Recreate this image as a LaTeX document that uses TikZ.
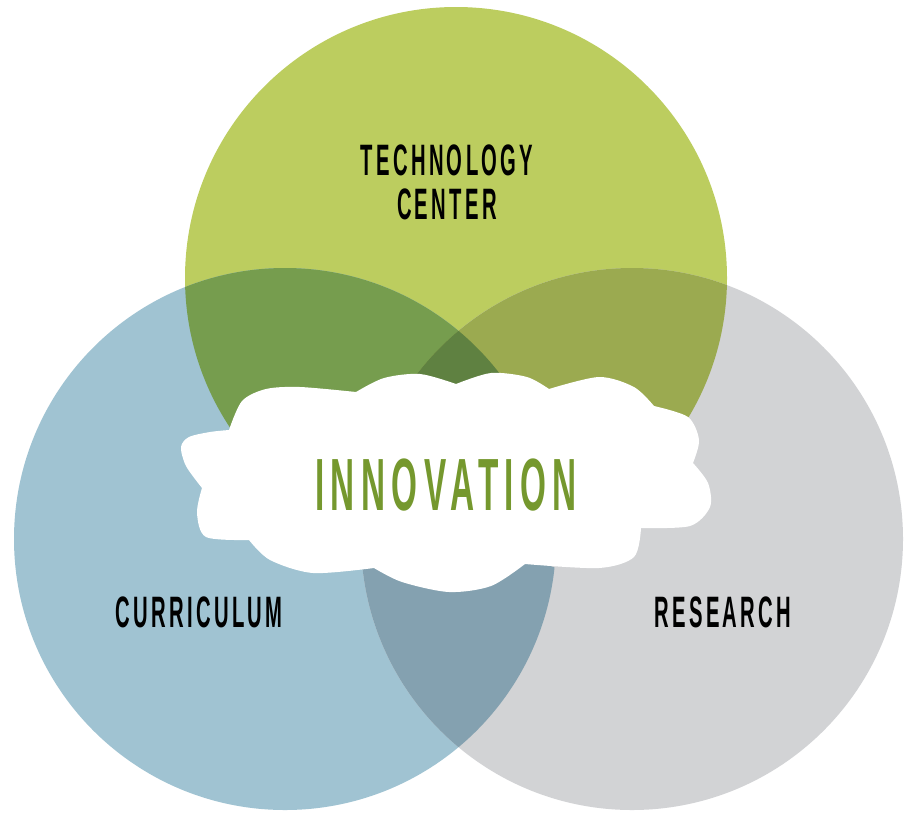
\documentclass[tikz,border=0pt]{standalone}
\usepackage{fontspec}
\usepackage{tikz}
\usetikzlibrary{positioning}

\newfontfamily\labelfont[FakeStretch=0.46,LetterSpace=7.6]{Liberation Sans}
\newfontfamily\innofont[FakeStretch=0.45,LetterSpace=8.6]{Liberation Sans}

\definecolor{techgreen}{RGB}{188,205,95}
\definecolor{curblue}{RGB}{160,195,210}
\definecolor{resgray}{RGB}{210,211,213}
\definecolor{greenblue}{RGB}{118,157,78}
\definecolor{greengray}{RGB}{155,170,80}
\definecolor{bluegray}{RGB}{132,161,176}
\definecolor{allthree}{RGB}{95,129,65}
\definecolor{innogreen}{RGB}{117,152,46}

\begin{document}
\begin{tikzpicture}[
    x=1pt, y=-1pt,
    setlabel/.style={inner sep=0pt, anchor=base, text=black, align=center,
        font=\labelfont\bfseries\fontsize{44}{44}\selectfont},
    innolabel/.style={inner sep=0pt, anchor=base, text=innogreen,
        font=\innofont\bfseries\fontsize{74}{78}\selectfont}
    ]
        \useasboundingbox (0,0) rectangle (907,812);

        %Circles
        \coordinate (tc) at (456,278);
        \coordinate (cu) at (285,539);
        \coordinate (re) at (632,539);
        \fill[techgreen] (tc) circle[radius=271pt];
        \fill[curblue]   (cu) circle[radius=271pt];
        \fill[resgray]   (re) circle[radius=271pt];

        %Overlaps
        \begin{scope}
            \clip (tc) circle[radius=271pt];
            \fill[greenblue] (cu) circle[radius=271pt];
            \fill[greengray] (re) circle[radius=271pt];
            \clip (cu) circle[radius=271pt];
            \fill[allthree] (re) circle[radius=271pt];
        \end{scope}
        \begin{scope}
            \clip (cu) circle[radius=271pt];
            \clip (re) circle[radius=271pt];
            \fill[bluegray] (tc) ++(0,542) circle[radius=271pt];
        \end{scope}

        %Cloud
        \fill[white]
            plot[smooth] coordinates {(202,488) (186,466) (181,447) (189,437) (210,432) (229,430)}
            -- plot[smooth] coordinates {(229,430) (242,401) (266,389) (300,387) (356,392)}
            -- plot[smooth] coordinates {(356,392) (384,378) (420,374) (456,384)}
            -- plot[smooth] coordinates {(456,384) (491,373) (527,377) (549,389)}
            -- plot[smooth] coordinates {(549,389) (599,377) (634,387) (654,406)}
            -- plot[smooth] coordinates {(654,406) (688,417) (699,440) (693,463)}
            -- plot[smooth] coordinates {(693,463) (708,483) (710,507) (690,526) (641,528)}
            -- plot[smooth] coordinates {(641,528) (634,557) (599,568) (525,564)}
            -- plot[smooth] coordinates {(525,564) (491,586) (449,592) (402,582) (374,568)}
            -- plot[smooth] coordinates {(374,568) (313,573) (270,560) (249,540)}
            -- plot[smooth] coordinates {(249,540) (206,537) (197,513) (202,488)}
            -- cycle;

        %Labels
        \node[setlabel, anchor=center] (tech) at (447,182.5) {TECHNOLOGY\\CENTER};
        \node[setlabel] (cur)    at (199,627) {CURRICULUM};
        \node[setlabel] (res)    at (723,627) {RESEARCH};
        \node[innolabel] (inno)  at (446,510) {INNOVATION};
    \end{tikzpicture}
\end{document}
